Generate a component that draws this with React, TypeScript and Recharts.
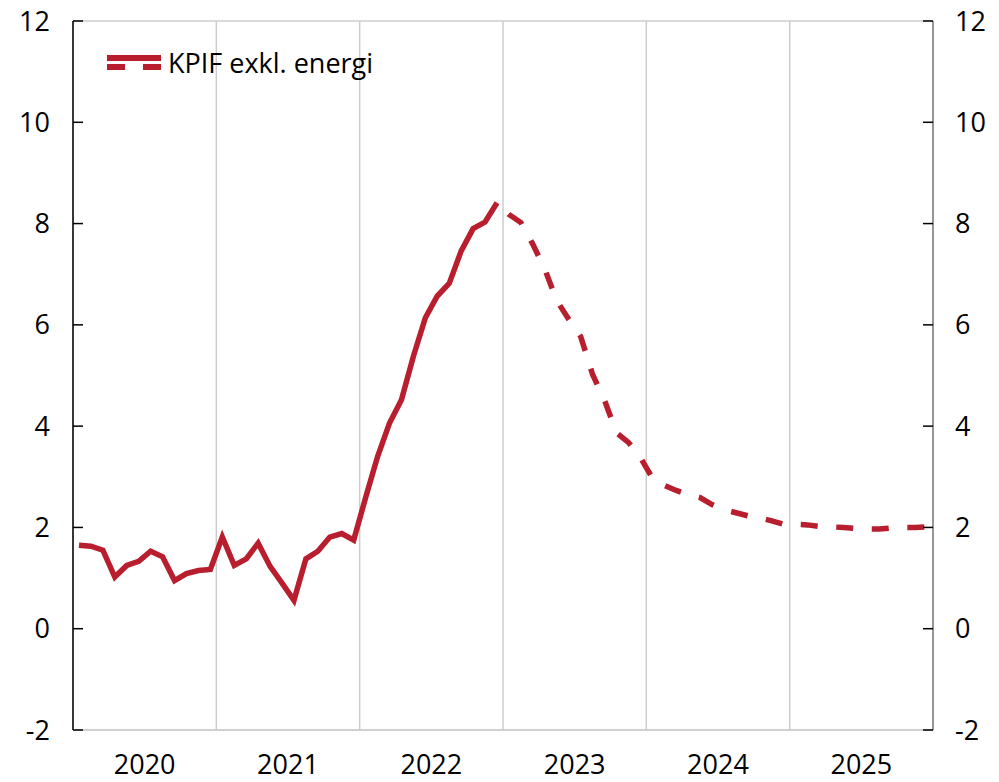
import React from "react"
import {
  LineChart,
  Line,
  XAxis,
  YAxis,
  CartesianGrid,
  Legend,
} from "recharts"

// monthly, Jan 2020 - Dec 2022 (outcome)
const actual = [
  1.65, 1.63, 1.55, 1.02, 1.25, 1.33, 1.53, 1.42, 0.95, 1.09, 1.15, 1.17,
  1.81, 1.25, 1.38, 1.69, 1.23, 0.9, 0.56, 1.38, 1.53, 1.81, 1.88, 1.75,
  2.59, 3.4, 4.06, 4.52, 5.38, 6.14, 6.57, 6.82, 7.46, 7.9, 8.03, 8.41,
]

// monthly, Dec 2022 - Dec 2025 (forecast)
const forecast = [
  8.41,
  8.18, 8.02, 7.59, 7.1, 6.48, 6.11, 5.77, 5.02, 4.51, 3.87, 3.68, 3.38,
  2.98, 2.83, 2.73, 2.65, 2.59, 2.45, 2.35, 2.29, 2.23, 2.19, 2.13, 2.06,
  2.06, 2.05, 2.02, 2.01, 2.0, 1.98, 1.97, 1.97, 1.99, 2.0, 2.0, 2.01,
]

const years = ["2020", "2021", "2022", "2023", "2024", "2025"]
const yTicks = [-2, 0, 2, 4, 6, 8, 10, 12]
const seriesName = "KPIF exkl. energi"

const FONT = "'Open Sans', sans-serif"
const RED = "#b81e2d"
const MONTHS = years.length * 12
const forecastStart = actual.length - 1

const data = Array.from({ length: MONTHS }, (_, i) => ({
  m: i + 0.5,
  actual: i < actual.length ? actual[i] : null,
  forecast: i >= forecastStart ? forecast[i - forecastStart] : null,
}))

const xTicks = years.map((_, i) => i * 12).concat(MONTHS)

const W = 999
const H = 782
const LEFT_W = 73
const RIGHT_W = 66
const halfYearPx = ((W - LEFT_W - RIGHT_W) / MONTHS) * 6

function LegendBox() {
  return (
    <div style={{ display: "flex", alignItems: "center", fontFamily: FONT, fontSize: 27, color: "#000" }}>
      <svg width={56} height={16} style={{ marginRight: 5 }}>
        <line x1={0} y1={3} x2={54} y2={3} stroke={RED} strokeWidth={6} />
        <line x1={0} y1={12} x2={54} y2={12} stroke={RED} strokeWidth={6} strokeDasharray="18 18" />
      </svg>
      <span style={{ whiteSpace: "nowrap" }}>{seriesName}</span>
    </div>
  )
}

export default function App() {
  const tick = { fill: "#000", fontSize: 27, fontFamily: FONT }
  return (
    <div style={{ position: "absolute", left: 0, top: 0, background: "#fff" }}>
      <LineChart
        width={W}
        height={H}
        data={data}
        margin={{ top: 21, right: 0, bottom: 0, left: 0 }}
        style={{ fontFamily: FONT }}
      >
        <CartesianGrid stroke="#cccccc" strokeWidth={1.5} />
        <XAxis
          dataKey="m"
          type="number"
          domain={[0, MONTHS]}
          ticks={xTicks}
          interval={0}
          height={52}
          tickLine={false}
          tickSize={0}
          tickMargin={25}
          axisLine={{ stroke: "#cccccc", strokeWidth: 1.5 }}
          tick={{ ...tick, dx: halfYearPx }}
          tickFormatter={(v: number) => (v < MONTHS ? years[v / 12] : "")}
        />
        <YAxis
          yAxisId="left"
          domain={[-2, 12]}
          ticks={yTicks}
          interval={0}
          width={LEFT_W}
          tickSize={-10}
          tickMargin={33}
          axisLine={{ stroke: "#000", strokeWidth: 1.5 }}
          tickLine={{ stroke: "#000", strokeWidth: 1.5 }}
          tick={tick}
        />
        <YAxis
          yAxisId="right"
          orientation="right"
          domain={[-2, 12]}
          ticks={yTicks}
          interval={0}
          width={RIGHT_W}
          tickSize={-10}
          tickMargin={32}
          axisLine={{ stroke: "#7f7f7f", strokeWidth: 1.5 }}
          tickLine={{ stroke: "#000", strokeWidth: 1.5 }}
          tick={tick}
        />
        <Legend
          layout="vertical"
          align="center"
          verticalAlign="middle"
          wrapperStyle={{ left: 107, top: 44, width: "auto" }}
          content={() => <LegendBox />}
        />
        <Line
          yAxisId="left"
          dataKey="actual"
          stroke={RED}
          strokeWidth={5.5}
          dot={false}
          activeDot={false}
          connectNulls={false}
          isAnimationActive={false}
        />
        <Line
          yAxisId="right"
          dataKey="forecast"
          stroke={RED}
          strokeWidth={5.5}
          strokeDasharray="17 18.6"
          strokeDashoffset={19.6}
          dot={false}
          activeDot={false}
          connectNulls={false}
          isAnimationActive={false}
        />
      </LineChart>
    </div>
  )
}
